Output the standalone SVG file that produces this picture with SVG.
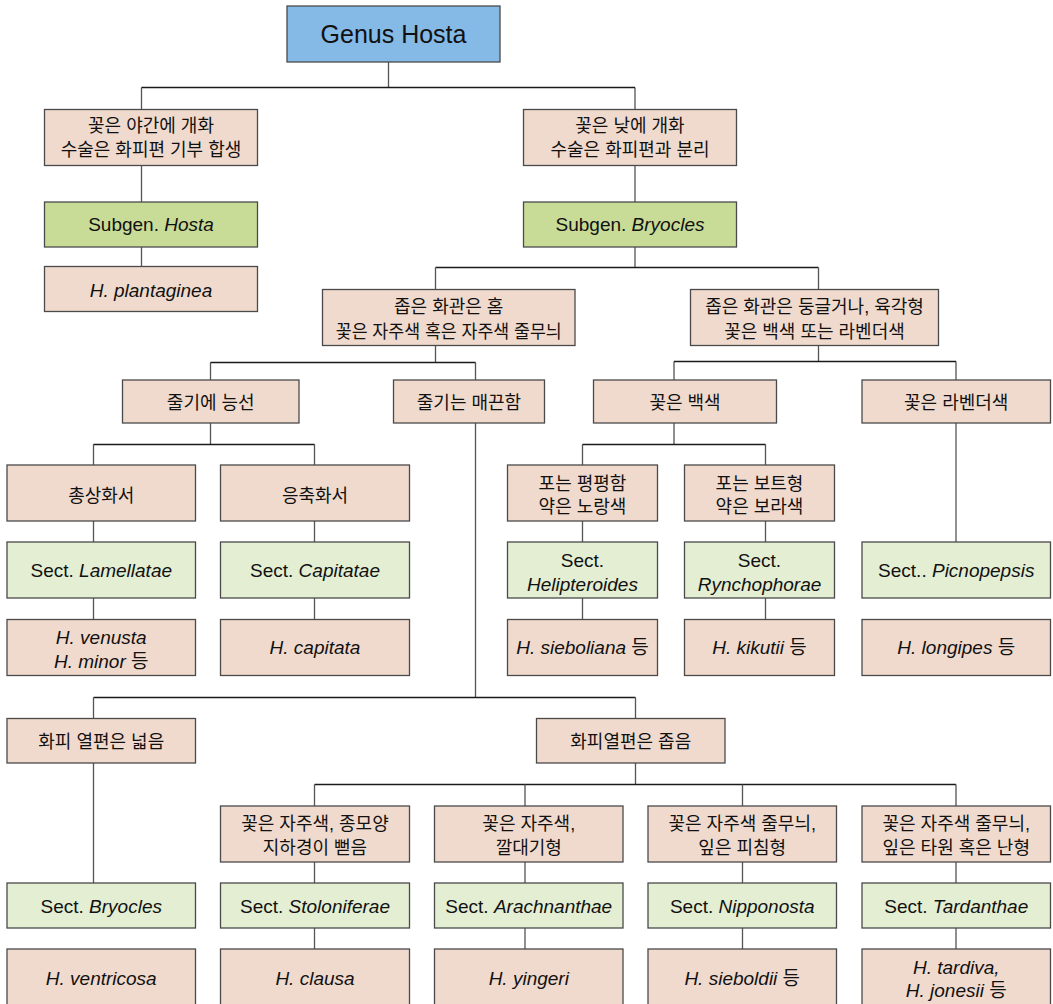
<svg xmlns="http://www.w3.org/2000/svg" width="1053" height="1004" viewBox="0 0 1053 1004">
<style>
rect{stroke:#4a4a4a;stroke-width:1.3}
.bl{fill:#85b9e6}.pk{fill:#f0dacd}.g1{fill:#c8dc97}.g2{fill:#e3eed3}
text{font-family:"Liberation Sans","Noto Sans CJK KR",sans-serif;fill:#111;text-anchor:middle}
.k{font-size:18px}.l{font-size:19px}.i{font-style:italic}
.h{stroke:#1a1a1a;stroke-width:1.3;fill:none}.v{stroke:#555;stroke-width:1.3;fill:none}
</style>
<rect width="1053" height="1004" fill="#fff" style="stroke:none"/>
<g id="connectors">
<path class="v" d="M388.5 62V87.5M141.5 87.5V109.5M635 87.5V109.5"/>
<path class="h" d="M141.5 87.5H635"/>
<path class="v" d="M141.5 165.5V202M141.5 247V266.5M635 165.5V202M635 247V267.5"/>
<path class="h" d="M435.5 267.5H818.5"/>
<path class="v" d="M435.5 267.5V289.5M818.5 267.5V289.5"/>
<path class="v" d="M435.5 345.5V362.5M210.5 362.5V380M475.5 362.5V380"/>
<path class="h" d="M210.5 362.5H475.5"/>
<path class="v" d="M818.5 345.5V361.5M674 361.5V380M956 361.5V380"/>
<path class="h" d="M674 361.5H956"/>
<path class="v" d="M210.5 423V444.5M93.5 444.5V465M314.5 444.5V465"/>
<path class="h" d="M93.5 444.5H314.5"/>
<path class="v" d="M93.5 521V542M93.5 598V619.5M314.5 521V542M314.5 598V619.5"/>
<path class="v" d="M674 423V444.5M582.5 444.5V465M765.5 444.5V465"/>
<path class="h" d="M582.5 444.5H765.5"/>
<path class="v" d="M582.5 521V542M582.5 598V619.5M765.5 521V542M765.5 598V619.5"/>
<path class="v" d="M956 423V542"/>
<path class="v" d="M475.5 423V697.5"/>
<path class="h" d="M93.5 697.5H635.5"/>
<path class="v" d="M93.5 697.5V718.5M635.5 697.5V718.5M93.5 763V883"/>
<path class="v" d="M635.5 763V784.5"/>
<path class="h" d="M314.5 784.5H956"/>
<path class="v" d="M314.5 784.5V806M525 784.5V806M742.5 784.5V806M956 784.5V806"/>
<path class="v" d="M314.5 862V883M314.5 928V949M525 862V883M525 928V949M742.5 862V883M742.5 928V949M956 862V883M956 928V949"/>
</g>
<g id="n0"><rect class="bl" x="287" y="6" width="213" height="56"/><text x="393.5" y="43" style="font-size:25px">Genus Hosta</text></g>
<g id="n1"><rect class="pk" x="44.5" y="109.5" width="213" height="56"/><text class="k" x="151" y="132.3">꽃은 야간에 개화</text><text class="k" x="151" y="156.3">수술은 화피편 기부 합생</text></g>
<g id="n2"><rect class="pk" x="523.5" y="109.5" width="213" height="56"/><text class="k" x="630" y="132.3">꽃은 낮에 개화</text><text class="k" x="630" y="156.3">수술은 화피편과 분리</text></g>
<g id="n3"><rect class="g1" x="44.5" y="202" width="213" height="45"/><text class="l" x="151" y="231.3">Subgen. <tspan class="i">Hosta</tspan></text></g>
<g id="n4"><rect class="g1" x="523.5" y="202" width="213" height="45"/><text class="l" x="630" y="231.3">Subgen. <tspan class="i">Bryocles</tspan></text></g>
<g id="n5"><rect class="pk" x="44.5" y="266.5" width="213" height="45"/><text class="l i" x="151" y="296.5">H. plantaginea</text></g>
<g id="n6"><rect class="pk" x="322.5" y="289.5" width="252.5" height="56"/><text class="k" x="448.75" y="312.5">좁은 화관은 홈</text><text class="k" x="448.75" y="337.5" textLength="226" lengthAdjust="spacingAndGlyphs">꽃은 자주색 혹은 자주색 줄무늬</text></g>
<g id="n7"><rect class="pk" x="690.5" y="289.5" width="248" height="56"/><text class="k" x="814.5" y="312.5">좁은 화관은 둥글거나, 육각형</text><text class="k" x="814.5" y="337.5">꽃은 백색 또는 라벤더색</text></g>
<g id="n8"><rect class="pk" x="122.5" y="380" width="176.5" height="43"/><text class="k" x="210.75" y="408.5">줄기에 능선</text></g>
<g id="n9"><rect class="pk" x="393.5" y="380" width="151" height="43"/><text class="k" x="469" y="408.5">줄기는 매끈함</text></g>
<g id="n10"><rect class="pk" x="593.5" y="380" width="183" height="43"/><text class="k" x="685" y="408.5">꽃은 백색</text></g>
<g id="n11"><rect class="pk" x="862" y="380" width="188.5" height="43"/><text class="k" x="956.25" y="408.5">꽃은 라벤더색</text></g>
<g id="n12"><rect class="pk" x="7" y="465" width="188.5" height="56"/><text class="k" x="101.25" y="501.5">총상화서</text></g>
<g id="n13"><rect class="pk" x="220.5" y="465" width="189" height="56"/><text class="k" x="315" y="501.5">응축화서</text></g>
<g id="n14"><rect class="pk" x="507.5" y="465" width="150" height="56"/><text class="k" x="582.5" y="489.8">포는 평평함</text><text class="k" x="582.5" y="512.8">약은 노랑색</text></g>
<g id="n15"><rect class="pk" x="684.5" y="465" width="150" height="56"/><text class="k" x="759.5" y="489.8">포는 보트형</text><text class="k" x="759.5" y="512.8">약은 보라색</text></g>
<g id="n16"><rect class="g2" x="7" y="542" width="188.5" height="56"/><text class="l" x="101.25" y="576.8">Sect. <tspan class="i">Lamellatae</tspan></text></g>
<g id="n17"><rect class="g2" x="220.5" y="542" width="189" height="56"/><text class="l" x="315" y="576.8">Sect. <tspan class="i">Capitatae</tspan></text></g>
<g id="n18"><rect class="g2" x="507.5" y="542" width="150" height="56"/><text class="l" x="582.5" y="566.8">Sect.</text><text class="l i" x="582.5" y="590.5">Helipteroides</text></g>
<g id="n19"><rect class="g2" x="684.5" y="542" width="150" height="56"/><text class="l" x="759.5" y="566.8">Sect.</text><text class="l i" x="759.5" y="590.5">Rynchophorae</text></g>
<g id="n20"><rect class="g2" x="862" y="542" width="188.5" height="56"/><text class="l" x="956.25" y="576.8">Sect.. <tspan class="i">Picnopepsis</tspan></text></g>
<g id="n21"><rect class="pk" x="7" y="619.5" width="188.5" height="56"/><text class="l i" x="101.25" y="643.8">H. venusta</text><text class="l" x="101.25" y="667.8"><tspan class="i">H. minor</tspan> 등</text></g>
<g id="n22"><rect class="pk" x="220.5" y="619.5" width="189" height="56"/><text class="l i" x="315" y="654.3">H. capitata</text></g>
<g id="n23"><rect class="pk" x="507.5" y="619.5" width="150" height="56"/><text class="l" x="582.5" y="654.3"><tspan class="i">H. sieboliana</tspan> 등</text></g>
<g id="n24"><rect class="pk" x="684.5" y="619.5" width="150" height="56"/><text class="l" x="759.5" y="654.3"><tspan class="i">H. kikutii</tspan> 등</text></g>
<g id="n25"><rect class="pk" x="862" y="619.5" width="188.5" height="56"/><text class="l" x="956.25" y="654.3"><tspan class="i">H. longipes</tspan> 등</text></g>
<g id="n26"><rect class="pk" x="7" y="718.5" width="188.5" height="44.5"/><text class="k" x="101.25" y="748">화피 열편은 넓음</text></g>
<g id="n27"><rect class="pk" x="536.5" y="718.5" width="188.5" height="44.5"/><text class="k" x="630.75" y="748">화피열편은 좁음</text></g>
<g id="n28"><rect class="pk" x="220.5" y="806" width="189" height="56"/><text class="k" x="315" y="830">꽃은 자주색, 종모양</text><text class="k" x="315" y="853.5">지하경이 뻗음</text></g>
<g id="n29"><rect class="pk" x="434.5" y="806" width="188.5" height="56"/><text class="k" x="528.75" y="830">꽃은 자주색,</text><text class="k" x="528.75" y="853.5">깔대기형</text></g>
<g id="n30"><rect class="pk" x="648" y="806" width="188.5" height="56"/><text class="k" x="742.25" y="830">꽃은 자주색 줄무늬,</text><text class="k" x="742.25" y="853.5">잎은 피침형</text></g>
<g id="n31"><rect class="pk" x="862" y="806" width="188.5" height="56"/><text class="k" x="956.25" y="830">꽃은 자주색 줄무늬,</text><text class="k" x="956.25" y="853.5">잎은 타원 혹은 난형</text></g>
<g id="n32"><rect class="g2" x="7" y="883" width="188.5" height="45"/><text class="l" x="101.25" y="913">Sect. <tspan class="i">Bryocles</tspan></text></g>
<g id="n33"><rect class="g2" x="220.5" y="883" width="189" height="45"/><text class="l" x="315" y="913">Sect. <tspan class="i">Stoloniferae</tspan></text></g>
<g id="n34"><rect class="g2" x="434.5" y="883" width="188.5" height="45"/><text class="l" x="528.75" y="913">Sect. <tspan class="i">Arachnanthae</tspan></text></g>
<g id="n35"><rect class="g2" x="648" y="883" width="188.5" height="45"/><text class="l" x="742.25" y="913">Sect. <tspan class="i">Nipponosta</tspan></text></g>
<g id="n36"><rect class="g2" x="862" y="883" width="188.5" height="45"/><text class="l" x="956.25" y="913">Sect. <tspan class="i">Tardanthae</tspan></text></g>
<g id="n37"><rect class="pk" x="7" y="949" width="188.5" height="62"/><text class="l i" x="101.25" y="985">H. ventricosa</text></g>
<g id="n38"><rect class="pk" x="220.5" y="949" width="189" height="62"/><text class="l i" x="315" y="985">H. clausa</text></g>
<g id="n39"><rect class="pk" x="434.5" y="949" width="188.5" height="62"/><text class="l i" x="528.75" y="985">H. yingeri</text></g>
<g id="n40"><rect class="pk" x="648" y="949" width="188.5" height="62"/><text class="l" x="742.25" y="985"><tspan class="i">H. sieboldii</tspan> 등</text></g>
<g id="n41"><rect class="pk" x="862" y="949" width="188.5" height="62"/><text class="l i" x="956.25" y="973.5">H. tardiva,</text><text class="l" x="956.25" y="996.5"><tspan class="i">H. jonesii</tspan> 등</text></g>
</svg>
